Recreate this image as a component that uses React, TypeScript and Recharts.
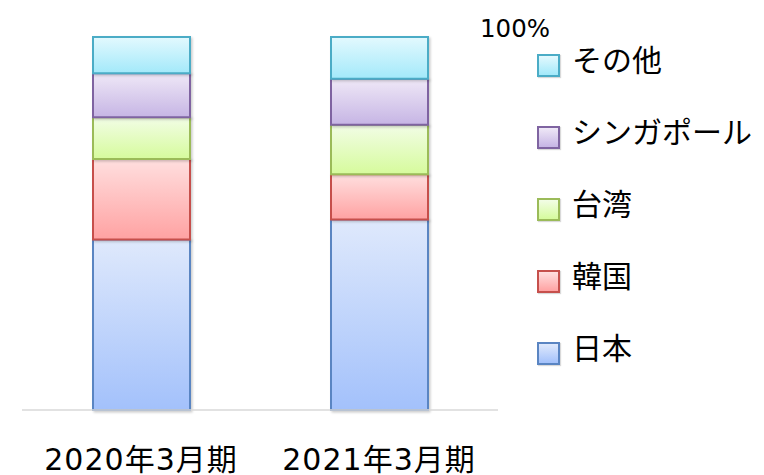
import React from 'react';
import { BarChart, Bar, XAxis, YAxis, Legend, Rectangle } from 'recharts';

const categories = ['2020年3月期', '2021年3月期'];
const japan = [45.7, 51.1];
const korea = [21.6, 12.1];
const taiwan = [11.2, 13.3];
const singapore = [11.8, 12.3];
const other = [9.7, 11.2];
const yTicks = [100];

const data = categories.map((c, i) => ({
  name: c,
  japan: japan[i],
  korea: korea[i],
  taiwan: taiwan[i],
  singapore: singapore[i],
  other: other[i],
}));

const FONT = "'DejaVu Sans', 'Noto Sans CJK JP', sans-serif";

const series = [
  { key: 'japan', label: '日本', top: '#dfe9fc', bottom: '#a3c1fb', stroke: '#5a85c2' },
  { key: 'korea', label: '韓国', top: '#ffdfdf', bottom: '#ffa2a2', stroke: '#c6504c' },
  { key: 'taiwan', label: '台湾', top: '#f2fde6', bottom: '#d6fb9c', stroke: '#9bbb59' },
  { key: 'singapore', label: 'シンガポール', top: '#efe8f7', bottom: '#c6b5e4', stroke: '#7f64a1' },
  { key: 'other', label: 'その他', top: '#e3f9fe', bottom: '#a3e9fa', stroke: '#4bacc6' },
];

const LegendContent = () => (
  <div style={{ fontFamily: FONT }}>
    {[...series].reverse().map((s) => (
      <div key={s.key} style={{ height: 72, display: 'flex', alignItems: 'center' }}>
        <div
          style={{
            width: 19,
            height: 19,
            border: `2px solid ${s.stroke}`,
            background: `linear-gradient(${s.top}, ${s.bottom})`,
            position: 'relative',
            top: 7,
            marginRight: 12,
            boxShadow: '1px 1px 1px rgba(0,0,0,0.15)',
          }}
        />
        <span style={{ fontSize: 30, lineHeight: 1, color: '#000', whiteSpace: 'nowrap', fontFamily: "'Noto Sans CJK JP', sans-serif" }}>
          {s.label}
        </span>
      </div>
    ))}
  </div>
);

const XTick = (props: any) => {
  const { x, y, payload } = props;
  return (
    <text x={x} y={y} dy={60} textAnchor="middle" fontSize={30} fill="#000" fontFamily={FONT} letterSpacing={1}>
      {payload.value}
    </text>
  );
};

const YTick = (props: any) => {
  const { x, y, payload } = props;
  return (
    <text x={x - 18} y={y} dy={0} textAnchor="start" fontSize={24.5} fill="#000" fontFamily={FONT}>
      {payload.value}%
    </text>
  );
};

export default function App() {
  return (
    <div style={{ position: 'absolute', left: 0, top: 0, background: '#fff' }}>
      <BarChart
        width={764}
        height={475}
        data={data}
        margin={{ top: 37, right: 265, bottom: 0, left: 22 }}
        barSize={97}
      >
        <defs>
          {series.map((s) => (
            <linearGradient key={s.key} id={`grad-${s.key}`} x1="0" y1="0" x2="0" y2="1">
              <stop offset="0%" stopColor={s.top} />
              <stop offset="100%" stopColor={s.bottom} />
            </linearGradient>
          ))}
          <filter id="shadow" x="-10%" y="-10%" width="130%" height="130%">
            <feDropShadow dx="1.5" dy="1.5" stdDeviation="1" floodColor="#000" floodOpacity="0.2" />
          </filter>
        </defs>
        <XAxis
          dataKey="name"
          height={65}
          tickLine={false}
          tickSize={0}
          tickMargin={0}
          axisLine={{ stroke: '#d9d9d9', strokeWidth: 1.5 }}
          tick={<XTick />}
          interval={0}
        />
        <YAxis
          orientation="right"
          width={1}
          domain={[0, 100]}
          ticks={yTicks}
          axisLine={false}
          tickLine={false}
          tickSize={0}
          tickMargin={0}
          tick={<YTick />}
        />
        {series.map((s) => (
          <Bar
            key={s.key}
            dataKey={s.key}
            stackId="a"
            fill={`url(#grad-${s.key})`}
            stroke={s.stroke}
            strokeWidth={2}
            isAnimationActive={false}
            shape={(p: any) => <Rectangle {...p} filter="url(#shadow)" />}
          />
        ))}
        <Legend
          layout="vertical"
          verticalAlign="middle"
          align="center"
          content={<LegendContent />}
          wrapperStyle={{ left: 537, top: 22, width: 230, right: 'auto', bottom: 'auto' }}
        />
      </BarChart>
    </div>
  );
}
